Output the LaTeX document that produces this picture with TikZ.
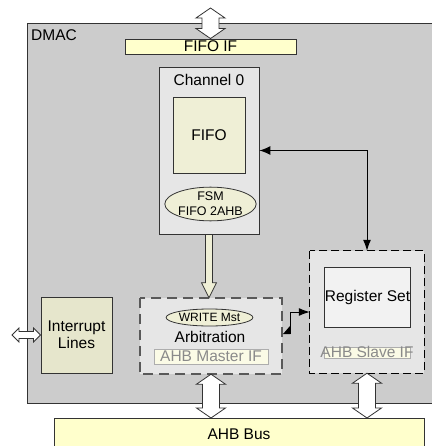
\documentclass[tikz,border=0pt]{standalone}
\usepackage{fontspec}
\setmainfont{Liberation Sans}
\usetikzlibrary{shapes.geometric,arrows.meta,calc}
\definecolor{dmacgrey}{HTML}{CCCCCC}
\definecolor{boxgrey}{HTML}{E6E6E6}
\definecolor{paleyellow}{HTML}{FFFFCC}
\definecolor{cream}{HTML}{EFEFD6}
\definecolor{olive}{HTML}{E6E6CC}
\definecolor{regfill}{HTML}{F2F2F2}
\definecolor{iffill}{HTML}{FBFBE6}
\definecolor{edge}{HTML}{333333}
\definecolor{greytext}{HTML}{8A8A8A}
\tikzset{
  mainfont/.style={font=\fontsize{15.5}{16.6}\selectfont},
  smallfont/.style={font=\fontsize{12.5}{15}\selectfont},
  solidbox/.style={draw=edge, line width=0.9pt, inner sep=0pt, mainfont},
  dashbox/.style={inner sep=0pt, fill=boxgrey},
  ovalbox/.style={ellipse, draw=edge, line width=0.8pt, fill=cream, inner sep=0pt, smallfont},
  ifbox/.style={draw=greytext!70, line width=0.8pt, fill=iffill, inner sep=0pt, text=greytext, mainfont},
  hollow/.style={draw=edge, line width=0.8pt, fill=white},
  blackline/.style={line width=1pt, black}
}
\begin{document}
\begin{tikzpicture}[x=1pt,y=-1pt]
\useasboundingbox (0,0) rectangle (431,446);
% DMAC frame
\node[solidbox, fill=dmacgrey, anchor=north west, minimum width=420, minimum height=379] (dmac) at (26.5,23.5) {};
\node[mainfont, anchor=west, inner sep=0pt] (dmaclabel) at (31,35) {DMAC};
% FIFO IF
\node[solidbox, fill=paleyellow, minimum width=171, minimum height=15] (fifoif) at (210.5,46.5) {FIFO IF};
% Channel 0
\node[solidbox, fill=boxgrey, minimum width=100, minimum height=167] (chan) at (209,150.5) {};
\node[mainfont, inner sep=0pt] (chanlabel) at (209,80) {Channel 0};
\node[solidbox, fill=cream, minimum width=72, minimum height=76] (fifo) at (209,135) {FIFO};
\node[ovalbox, minimum width=75, minimum height=30, align=center] (fsm) at (210.5,204) {FSM\\FIFO 2AHB};
% Arbitration block
\node[dashbox, minimum width=142, minimum height=76] (arb) at (211,336) {};
\draw[draw=black!65, line width=1.6pt, dash pattern=on 10pt off 6pt] (arb.north west) rectangle (arb.south east);
\node[ovalbox, minimum width=85, minimum height=17, font=\fontsize{12}{14}\selectfont] (write) at (209.5,317.5) {WRITE Mst};
\node[mainfont, inner sep=0pt] (arblabel) at (210,337) {Arbitration};
\node[ifbox, minimum width=114, minimum height=15] (masterif) at (211,356.5) {AHB Master IF};
% Register block
\node[dashbox, minimum width=114, minimum height=122] (reg) at (367,312) {};
\draw[draw=black, line width=1pt, dash pattern=on 8pt off 4pt] (reg.north west) rectangle (reg.south east);
\node[solidbox, fill=regfill, minimum width=85, minimum height=60] (regset) at (367.5,297) {Register Set};
\node[ifbox, minimum width=86, minimum height=11] (slaveif) at (367,352.5) {};
\node[mainfont, text=greytext, inner sep=0pt] (slavelabel) at (367,352) {AHB Slave IF};
% Interrupt lines
\node[solidbox, fill=olive, minimum width=71, minimum height=76, align=center] (intr) at (76.5,335) {Interrupt\\Lines};
% AHB Bus
\node[solidbox, fill=paleyellow, anchor=north west, minimum width=370, minimum height=45] (bus) at (54,418) {};
\node[mainfont, inner sep=0pt] (buslabel) at (239,434) {AHB Bus};
% free ends
\coordinate (topend) at (210.5,8);
\coordinate (intend) at (12,335);
\coordinate (arbout) at (290,334);
% hollow double arrows (vertical)
\draw[hollow] let \p1=(topend), \p2=(fifoif.north) in
  (\x1,\y1) -- (\x1-14.5pt,\y1-10pt) -- (\x1-8.5pt,\y1-10pt) -- (\x1-8.5pt,\y2+10pt) -- (\x1-14.5pt,\y2+10pt)
  -- (\x1,\y2) -- (\x1+14.5pt,\y2+10pt) -- (\x1+8.5pt,\y2+10pt) -- (\x1+8.5pt,\y1-10pt) -- (\x1+14.5pt,\y1-10pt) -- cycle;
\draw[hollow] let \p1=(arb.south), \p2=(bus.north) in
  (\x1,\y1) -- (\x1-14.5pt,\y1-10pt) -- (\x1-8.5pt,\y1-10pt) -- (\x1-8.5pt,\y2+10pt) -- (\x1-14.5pt,\y2+10pt)
  -- (\x1,\y2) -- (\x1+14.5pt,\y2+10pt) -- (\x1+8.5pt,\y2+10pt) -- (\x1+8.5pt,\y1-10pt) -- (\x1+14.5pt,\y1-10pt) -- cycle;
\draw[hollow] let \p1=(reg.south), \p2=(bus.north) in
  (\x1,\y1) -- (\x1-14.5pt,\y1-10pt) -- (\x1-8.5pt,\y1-10pt) -- (\x1-8.5pt,\y2+10pt) -- (\x1-14.5pt,\y2+10pt)
  -- (\x1,\y2) -- (\x1+14.5pt,\y2+10pt) -- (\x1+8.5pt,\y2+10pt) -- (\x1+8.5pt,\y1-10pt) -- (\x1+14.5pt,\y1-10pt) -- cycle;
% hollow double arrow (horizontal) to interrupt lines
\draw[hollow] let \p1=(intend), \p2=(intr.west) in
  (\x1,\y1) -- (\x1+7pt,\y1+7pt) -- (\x1+7pt,\y1+3.5pt) -- (\x2-7pt,\y1+3.5pt) -- (\x2-7pt,\y1+7pt)
  -- (\x2,\y1) -- (\x2-7pt,\y1-7pt) -- (\x2-7pt,\y1-3.5pt) -- (\x1+7pt,\y1-3.5pt) -- (\x1+7pt,\y1-7pt) -- cycle;
% hollow single arrow channel -> arbitration
\draw[draw=edge, line width=0.8pt, fill=cream] let \p1=(chan.south), \p2=(arb.north) in
  (\x1-3.5pt,\y1) -- (\x1-3.5pt,\y2+15pt) -- (\x1-7.5pt,\y2+15pt) -- (\x1,\y2) -- (\x1+7.5pt,\y2+15pt)
  -- (\x1+3.5pt,\y2+15pt) -- (\x1+3.5pt,\y1) -- cycle;
% black connectors
\draw[blackline, {Latex[length=11pt,width=9pt]}-{Latex[length=11pt,width=8pt]}] (chan.east) -| (reg.north);
\draw[blackline, -{Latex[length=11pt,width=8pt]}] (arbout) |- (reg.west);
\fill[black] (arbout) -- ++(-7,0) -- ++(7,-8) -- cycle;
\end{tikzpicture}
\end{document}
